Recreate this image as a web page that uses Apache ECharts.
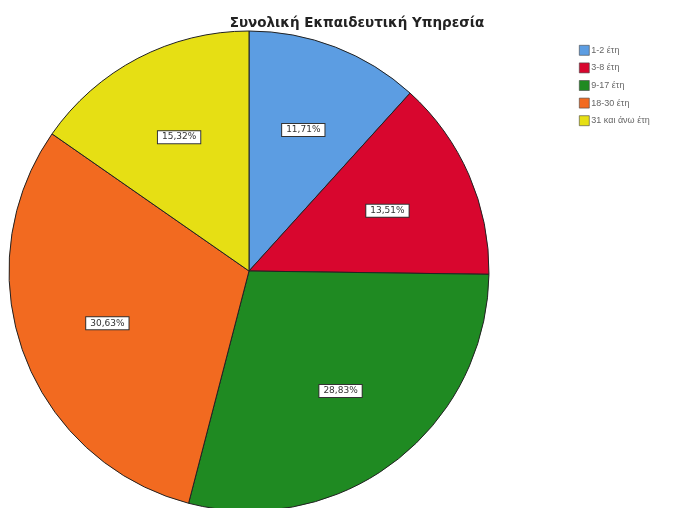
<!DOCTYPE html>
<html>
<head>
<meta charset="utf-8">
<script src="https://cdn.jsdelivr.net/npm/echarts@6/dist/echarts.min.js"></script>
<style>
  html, body { margin: 0; padding: 0; background: #fff; }
  #chart { width: 677px; height: 508px; }
</style>
</head>
<body>
<div id="chart"></div>
<script>
// Years of teaching service, share of respondents (%)
const categories = ['1-2 έτη', '3-8 έτη', '9-17 έτη', '18-30 έτη', '31 και άνω έτη'];
const shares = [11.71, 13.51, 28.83, 30.63, 15.32];
const sliceColors = ['#5c9de2', '#d8062e', '#1f8a22', '#f26a20', '#e6df14'];

const chart = echarts.init(document.getElementById('chart'), null, { renderer: 'canvas' });

const pieData = categories.map((name, i) => ({
  name: name,
  value: shares[i],
  itemStyle: { color: sliceColors[i] }
}));

const fmt = p => p.value.toFixed(2).replace('.', ',') + '%';

chart.setOption({
  animation: false,
  backgroundColor: '#ffffff',
  title: {
    text: 'Συνολική Εκπαιδευτική Υπηρεσία',
    left: 352,
    top: 11,
    textAlign: 'center',
    textStyle: { fontFamily: 'DejaVu Sans, sans-serif', fontSize: 13.5, fontWeight: 'bold', color: '#222' }
  },
  legend: {
    orient: 'vertical',
    left: 574,
    top: 40,
    itemWidth: 10,
    itemHeight: 10,
    itemGap: 7,
    icon: 'rect',
    data: categories,
    itemStyle: { borderColor: '#444', borderWidth: 0.6 },
    textStyle: { fontFamily: 'Liberation Sans, Arial, sans-serif', fontSize: 9, color: '#666', padding: [0, 0, 0, -3] }
  },
  series: [
    {
      type: 'pie',
      center: [249, 271],
      radius: [0, 240],
      startAngle: 90,
      clockwise: true,
      avoidLabelOverlap: false,
      data: pieData,
      itemStyle: { borderColor: '#222', borderWidth: 1 },
      label: { show: false },
      labelLine: { show: false },
      emphasis: { disabled: true }
    },
    {
      // transparent copy that only carries the percentage labels, set further out
      type: 'pie',
      center: [249, 271],
      radius: [0, 296],
      startAngle: 90,
      clockwise: true,
      avoidLabelOverlap: false,
      silent: true,
      data: pieData.map(d => ({ name: d.name, value: d.value, itemStyle: { color: 'rgba(0,0,0,0)' } })),
      itemStyle: { borderWidth: 0 },
      label: {
        show: true,
        position: 'inside',
        formatter: fmt,
        fontFamily: 'DejaVu Sans, sans-serif',
        fontSize: 9,
        color: '#333',
        backgroundColor: '#ffffff',
        borderColor: '#333',
        borderWidth: 1,
        padding: [2, 4, 1, 4]
      },
      labelLine: { show: false },
      emphasis: { disabled: true }
    }
  ]
});
</script>
</body>
</html>
